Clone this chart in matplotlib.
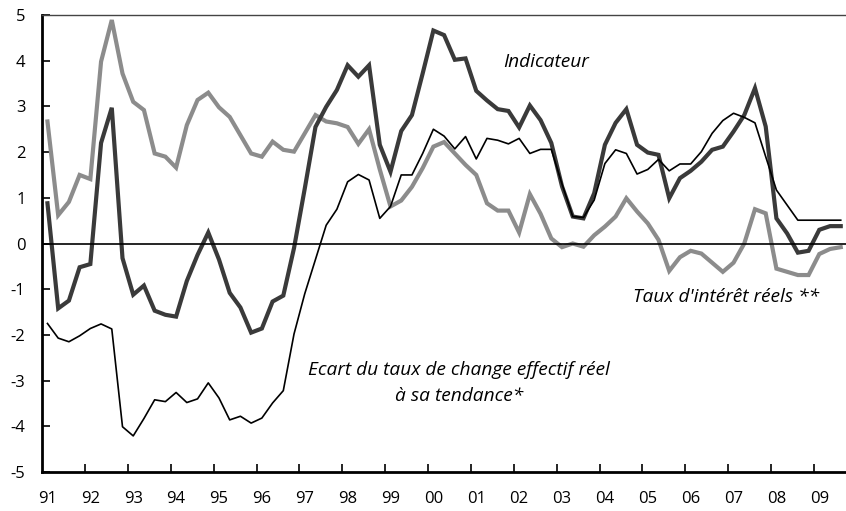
import numpy as np
import matplotlib.pyplot as plt

plt.rcParams['font.family'] = ['Open Sans', 'DejaVu Sans']
plt.rcParams['axes.unicode_minus'] = False

# trimestres 1991T1 .. 2009T3
annees = ['91', '92', '93', '94', '95', '96', '97', '98', '99', '00',
          '01', '02', '03', '04', '05', '06', '07', '08', '09']

indicateur = [0.88, -1.42, -1.25, -0.52, -0.45, 2.20, 2.97, -0.32, -1.12, -0.92,
              -1.47, -1.56, -1.60, -0.82, -0.25, 0.24, -0.35, -1.08, -1.40, -1.95,
              -1.86, -1.27, -1.14, -0.10, 1.20, 2.55, 2.99, 3.36, 3.90, 3.65,
              3.90, 2.16, 1.57, 2.46, 2.81, 3.72, 4.66, 4.56, 4.02, 4.05,
              3.34, 3.13, 2.94, 2.90, 2.54, 3.02, 2.70, 2.20, 1.25, 0.59,
              0.55, 1.10, 2.16, 2.64, 2.94, 2.16, 1.99, 1.94, 0.99, 1.43,
              1.59, 1.79, 2.05, 2.12, 2.45, 2.81, 3.40, 2.56, 0.55, 0.22,
              -0.20, -0.16, 0.30, 0.38, 0.38]

taux_reels = [2.67, 0.62, 0.91, 1.50, 1.41, 3.98, 4.89, 3.72, 3.10, 2.92,
              1.97, 1.90, 1.66, 2.59, 3.14, 3.30, 2.98, 2.77, 2.37, 1.97,
              1.90, 2.23, 2.05, 2.01, 2.41, 2.81, 2.67, 2.63, 2.55, 2.18,
              2.50, 1.62, 0.81, 0.94, 1.24, 1.65, 2.12, 2.22, 1.97, 1.72,
              1.50, 0.88, 0.72, 0.72, 0.24, 1.08, 0.65, 0.11, -0.08, 0.00,
              -0.07, 0.18, 0.37, 0.59, 0.99, 0.70, 0.44, 0.08, -0.60, -0.30,
              -0.16, -0.22, -0.42, -0.62, -0.42, 0.00, 0.75, 0.66, -0.55, -0.62,
              -0.69, -0.69, -0.23, -0.12, -0.08]

ecart_change = [-1.75, -2.07, -2.15, -2.02, -1.86, -1.76, -1.87, -4.01, -4.21, -3.83,
                -3.42, -3.46, -3.26, -3.48, -3.40, -3.05, -3.38, -3.86, -3.78, -3.93,
                -3.82, -3.49, -3.22, -1.98, -1.10, -0.35, 0.40, 0.75, 1.35, 1.51,
                1.39, 0.55, 0.81, 1.50, 1.50, 1.97, 2.50, 2.35, 2.07, 2.34,
                1.85, 2.30, 2.26, 2.18, 2.30, 1.97, 2.06, 2.06, 1.30, 0.59,
                0.57, 0.95, 1.75, 2.05, 1.97, 1.52, 1.62, 1.84, 1.59, 1.74,
                1.74, 2.01, 2.41, 2.69, 2.85, 2.76, 2.64, 1.90, 1.17, 0.84,
                0.51, 0.51, 0.51, 0.51, 0.51]

n = len(indicateur)
x = np.arange(n) + 0.5

fig = plt.figure(figsize=(8.46, 5.11), dpi=100)
ax = fig.add_axes([42.1 / 846, 1 - 472 / 511, 804 / 846, 457 / 511])

ax.plot(x, taux_reels, color='#8c8c8c', linewidth=3.0, solid_joinstyle='miter')
ax.plot(x, indicateur, color='#3a3a3a', linewidth=3.0, solid_joinstyle='miter')
ax.plot(x, ecart_change, color='black', linewidth=1.2)
ax.axhline(0, color='black', linewidth=1.2)

ax.set_xlim(0, n)
ax.set_ylim(-5, 5)

# graduations
ax.set_yticks(range(-5, 6))
ax.set_xticks(np.arange(4, n, 4))
ax.set_xticklabels([])
ax.set_xticks(np.arange(len(annees)) * 4 + 0.5, minor=True)
ax.set_xticklabels(annees, minor=True)
ax.tick_params(axis='x', which='major', direction='in', length=6, width=1.2)
ax.tick_params(axis='x', which='minor', length=0, pad=14, labelsize=12)
ax.tick_params(axis='y', direction='in', length=6, width=1.2, pad=12, labelsize=12)

for s in ['left', 'bottom']:
    ax.spines[s].set_linewidth(2)
ax.spines['top'].set_linewidth(1)
ax.spines['top'].set_color('#444444')
ax.spines['right'].set_visible(False)

# libellés des courbes
ax.text(47.0, 3.97, 'Indicateur', style='italic', fontsize=13.8, ha='center', va='center')
ax.text(63.8, -1.17, "Taux d'intérêt réels **", style='italic', fontsize=13.8,
        ha='center', va='center')
ax.text(38.9, -3.05, 'Ecart du taux de change effectif réel\nà sa tendance*',
        style='italic', fontsize=13.8, ha='center', va='center', linespacing=1.6)

plt.savefig('out.png', dpi=100)
